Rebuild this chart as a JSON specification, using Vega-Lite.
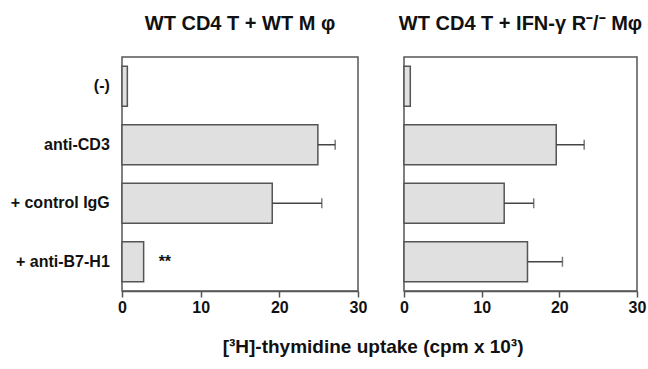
{
  "$schema": "https://vega.github.io/schema/vega-lite/v6.json",
  "padding": {"left": 5, "top": 12, "right": 5, "bottom": 5},
  "background": "white",
  "bounds": "flush",
  "spacing": 46,
  "config": {
    "font": "Liberation Sans",
    "view": {"stroke": "#555", "strokeWidth": 1.5},
    "title": {"fontWeight": "bold", "color": "#111"}
  },
  "title": {
    "text": "[³H]-thymidine uptake (cpm x 10³)",
    "orient": "bottom",
    "anchor": "middle",
    "fontSize": 19,
    "fontWeight": "bold",
    "color": "#111",
    "offset": 22,
    "dx": 47
  },
  "datasets": {
    "d": [
      {"panel": "L", "cat": "(-)", "value": 0.68, "hi": null, "sig": null},
      {"panel": "L", "cat": "anti-CD3", "value": 24.9, "hi": 27.1, "sig": null},
      {"panel": "L", "cat": "+ control IgG", "value": 19.1, "hi": 25.4, "sig": null},
      {"panel": "L", "cat": "+ anti-B7-H1", "value": 2.75, "hi": null, "sig": "**"},
      {"panel": "R", "cat": "(-)", "value": 0.81, "hi": null, "sig": null},
      {"panel": "R", "cat": "anti-CD3", "value": 19.6, "hi": 23.2, "sig": null},
      {"panel": "R", "cat": "+ control IgG", "value": 12.9, "hi": 16.7, "sig": null},
      {"panel": "R", "cat": "+ anti-B7-H1", "value": 15.9, "hi": 20.4, "sig": null}
    ]
  },
  "hconcat": [
    {
      "width": 236,
      "height": 234,
      "title": {"text": "WT CD4 T + WT M φ", "fontSize": 20, "fontWeight": "bold", "color": "#111", "offset": 23.5},
      "data": {"name": "d"},
      "transform": [{"filter": "datum.panel == 'L'"}],
      "encoding": {
        "y": {
          "field": "cat", "type": "nominal",
          "sort": ["(-)", "anti-CD3", "+ control IgG", "+ anti-B7-H1"],
          "scale": {"paddingInner": 0.32, "paddingOuter": 0.16},
          "axis": {"title": null, "domain": false, "ticks": false, "labelFontSize": 16, "labelFontWeight": "bold", "labelColor": "#111", "labelPadding": 12.7, "minExtent": 115.7, "maxExtent": 115.7, "labelLimit": 200}
        }
      },
      "layer": [
        {
          "mark": {"type": "bar", "fill": "#e0e0e0", "stroke": "#555", "strokeWidth": 1.5},
          "encoding": {
            "x": {"field": "value", "type": "quantitative", "scale": {"domain": [0, 30], "nice": false},
              "axis": {"values": [0, 10, 20, 30], "title": null, "grid": false, "domainColor": "#555", "domainWidth": 1.5, "tickColor": "#555", "tickWidth": 1.5, "tickSize": 6, "labelFontSize": 16, "labelFontWeight": "bold", "labelColor": "#111", "labelPadding": 2, "labelFlush": false}}
          }
        },
        {
          "transform": [{"filter": "datum.hi != null"}],
          "mark": {"type": "rule", "stroke": "#444", "strokeWidth": 1.5},
          "encoding": {"x": {"field": "value", "type": "quantitative"}, "x2": {"field": "hi"}}
        },
        {
          "transform": [{"filter": "datum.hi != null"}],
          "mark": {"type": "tick", "color": "#444", "thickness": 1.5, "size": 10},
          "encoding": {"x": {"field": "hi", "type": "quantitative"}}
        },
        {
          "transform": [{"filter": "datum.sig != null"}],
          "mark": {"type": "text", "align": "left", "dx": 15, "fontSize": 16, "fontWeight": "bold", "color": "#111"},
          "encoding": {"x": {"field": "value", "type": "quantitative"}, "text": {"field": "sig"}}
        }
      ]
    },
    {
      "width": 233,
      "height": 234,
      "title": {"text": "WT CD4 T + IFN-γ R⁻/⁻ Mφ", "fontSize": 20, "fontWeight": "bold", "color": "#111", "offset": 23.5},
      "data": {"name": "d"},
      "transform": [{"filter": "datum.panel == 'R'"}],
      "encoding": {
        "y": {
          "field": "cat", "type": "nominal",
          "sort": ["(-)", "anti-CD3", "+ control IgG", "+ anti-B7-H1"],
          "scale": {"paddingInner": 0.32, "paddingOuter": 0.16},
          "axis": null
        }
      },
      "layer": [
        {
          "mark": {"type": "bar", "fill": "#e0e0e0", "stroke": "#555", "strokeWidth": 1.5},
          "encoding": {
            "x": {"field": "value", "type": "quantitative", "scale": {"domain": [0, 30], "nice": false},
              "axis": {"values": [0, 10, 20, 30], "title": null, "grid": false, "domainColor": "#555", "domainWidth": 1.5, "tickColor": "#555", "tickWidth": 1.5, "tickSize": 6, "labelFontSize": 16, "labelFontWeight": "bold", "labelColor": "#111", "labelPadding": 2, "labelFlush": false}}
          }
        },
        {
          "transform": [{"filter": "datum.hi != null"}],
          "mark": {"type": "rule", "stroke": "#444", "strokeWidth": 1.5},
          "encoding": {"x": {"field": "value", "type": "quantitative"}, "x2": {"field": "hi"}}
        },
        {
          "transform": [{"filter": "datum.hi != null"}],
          "mark": {"type": "tick", "color": "#444", "thickness": 1.5, "size": 10},
          "encoding": {"x": {"field": "hi", "type": "quantitative"}}
        }
      ]
    }
  ]
}
